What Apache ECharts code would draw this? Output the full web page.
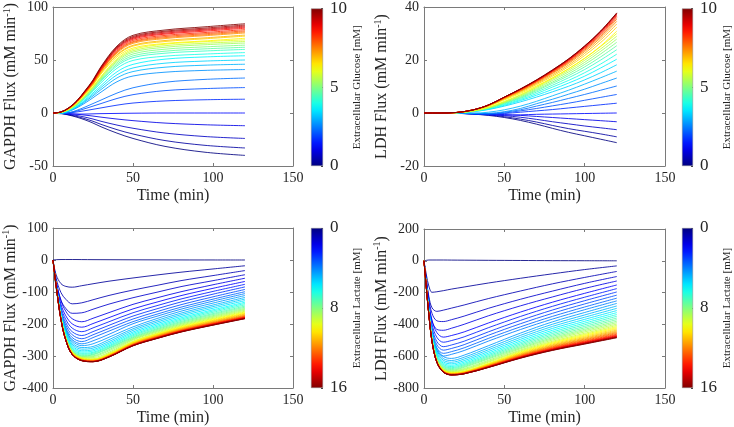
<!DOCTYPE html>
<html>
<head>
<meta charset="utf-8">
<script src="https://cdn.jsdelivr.net/npm/echarts@6/dist/echarts.min.js"></script>
<style>
html,body{margin:0;padding:0;background:#fff}
#main{width:734px;height:427px}
</style>
</head>
<body>
<div id="main"></div>
<script>
// time points (min)
var timeGapdhGlc = [0, 5, 10, 15, 20, 25, 30, 40, 50, 70, 95, 120];
var timeLdhGlc = [0, 10, 20, 30, 40, 50, 60, 70, 80, 90, 100, 110, 120];
var timeGapdhLac = [0, 2, 5, 8, 12, 18, 25, 35, 50, 65, 80, 100, 120];
var timeLdhLac = [0, 1.5, 3, 5, 8, 12, 17, 25, 40, 60, 80, 100, 120];

// extracellular concentrations of each curve (mM)
var glucoseLevels = [0,0.333,0.667,1,1.333,1.667,2,2.333,2.667,3,3.333,3.667,4,4.333,4.667,5,5.333,5.667,6,6.333,6.667,7,7.333,7.667,8,8.333,8.667,9,9.333,9.667,10];
var lactateLevels = [0,0.4,0.8,1.2,1.6,2,2.4,2.8,3.2,3.6,4,4.4,4.8,5.2,5.6,6,6.4,6.8,7.2,7.6,8,8.4,8.8,9.2,9.6,10,10.4,10.8,11.2,11.6,12,12.4,12.8,13.2,13.6,14,14.4,14.8,15.2,15.6,16];

// GAPDH flux vs glucose (one row per glucose level)
var gapdhGlc = [
[0,-0.5,-2,-4,-6.5,-9.5,-13,-19,-24,-31.5,-37,-40],
[0,-0.4,-1.7,-3.3,-5.4,-7.8,-10.7,-15.7,-19.8,-26,-30.5,-33],
[0,-0.3,-1.2,-2.4,-3.9,-5.7,-7.8,-11.4,-14.4,-18.9,-22.2,-24],
[0,-0.2,-0.6,-1.2,-2,-2.9,-3.9,-5.7,-7.2,-9.5,-11.1,-12],
[0,-0.3,-0.8,-1,-1,-0.8,-0.6,-0.4,-0.2,0,0,0],
[0,-0.3,0.1,1,2.2,3.5,4.8,7.4,9.4,11.4,12.5,13],
[0,-0.5,0.2,1.9,4.1,6.5,8.9,13.7,17.3,21.1,23,24],
[0,-0.7,0.3,2.6,5.6,8.9,12.2,18.8,23.8,29,31.7,33],
[0,0,1.6,4.9,9.4,14.4,19.7,29.5,34.9,38.5,40.2,41],
[0,0,1.8,5.5,10.6,16.1,22.1,33.1,39.1,43.2,45.1,46],
[0,0,2,6,11.5,17.5,24,36,42.5,47,49,50],
[0,0,2.2,6.5,12.4,18.9,25.9,38.9,45.9,50.8,52.9,54],
[0,0.5,2.9,7.4,13.7,20.5,28.5,42.2,49.6,53.6,55.6,57],
[0,0.5,3,7.8,14.4,21.6,30,44.4,52.2,56.4,58.5,60],
[0,0.5,3.1,8.1,14.9,22.3,31,45.9,53.9,58.3,60.5,62],
[0,0.5,3.2,8.3,15.4,23,32,47.4,55.7,60.2,62.4,64],
[0,0.5,3.3,8.6,15.8,23.8,33,48.8,57.4,62,64.4,66],
[0,0.5,3.4,8.8,16.2,24.3,33.8,50,58.7,63.5,65.8,67.5],
[0,0.6,3.5,9,16.6,24.8,34.5,51.1,60,64.9,67.3,69],
[0,0.8,4.2,9.9,17.6,26.1,36.7,52.9,61.3,65.6,68,70.5],
[0,0.9,4.4,10.2,18.1,26.8,37.7,54.4,63.1,67.4,70,72.5],
[0,0.9,4.4,10.3,18.4,27.2,38.2,55.1,63.9,68.4,70.9,73.5],
[0,0.9,4.5,10.6,18.9,27.9,39.3,56.6,65.7,70.2,72.9,75.5],
[0,0.9,4.6,10.7,19.1,28.3,39.8,57.4,66.6,71.1,73.8,76.5],
[0,0.9,4.7,10.9,19.4,28.7,40.3,58.1,67.4,72.1,74.8,77.5],
[0,0.9,4.7,11,19.7,29.1,40.9,59,68.5,73.2,75.9,78.7],
[0,1,4.8,11.2,20,29.6,41.6,60,69.6,74.4,77.2,80],
[0,1,4.9,11.3,20.3,30,42.1,60.8,70.5,75.3,78.2,81],
[0,1,4.9,11.5,20.5,30.3,42.6,61.5,71.3,76.3,79.1,82],
[0,1,5,11.6,20.8,30.7,43.2,62.3,72.2,77.2,80.1,83],
[0,1,5.1,11.8,21.1,31.2,43.8,63.2,73.3,78.3,81.3,84.2]
];

// LDH flux vs glucose
var ldhGlc = [
[0,0,-0.1,-0.4,-0.9,-1.7,-2.8,-4.2,-5.8,-7.3,-8.6,-9.9,-11.2],
[0,0,-0.08,-0.3,-0.7,-1.4,-2.3,-3.4,-4.7,-5.9,-6.9,-7.9,-9],
[0,0,-0.05,-0.2,-0.5,-1,-1.6,-2.4,-3.3,-4.1,-4.9,-5.6,-6.3],
[0,0,-0.03,-0.1,-0.3,-0.6,-0.9,-1.3,-1.7,-2.1,-2.5,-2.9,-3.3],
[0,0,-0.1,-0.4,-0.7,-0.8,-0.7,-0.5,-0.4,-0.3,-0.2,-0.1,0],
[0,0,-0.1,-0.3,-0.5,-0.2,0.3,0.8,1.3,1.9,2.5,3.1,3.7],
[0,0,-0.1,-0.3,-0.4,0,0.8,1.7,2.7,3.7,4.8,5.9,7],
[0,0,-0.1,-0.2,-0.3,0.3,1.2,2.6,4,5.5,7,8.6,10.2],
[0,0,-0.05,-0.15,-0.1,0.5,1.7,3.5,5.2,7.1,9,11.1,13.2],
[0,0,0,-0.1,0.3,1.2,2.6,4.4,6.5,8.6,10.9,13.3,15.8],
[0,0,0.05,0.46,1.3,2.6,4.2,6,8,10.1,12.5,15.2,18.2],
[0,0,0.06,0.51,1.4,2.9,4.7,6.7,8.9,11.3,13.9,17,20.3],
[0,0,0.07,0.56,1.6,3.2,5.1,7.3,9.8,12.3,15.2,18.5,22.2],
[0,0,0.07,0.6,1.7,3.5,5.5,7.9,10.5,13.3,16.4,20,23.9],
[0,0,0.08,0.64,1.8,3.7,5.8,8.4,11.2,14.1,17.4,21.2,25.4],
[0,0,0.08,0.67,1.9,3.9,6.1,8.8,11.7,14.8,18.3,22.3,26.7],
[0,0,0.08,0.7,2,4,6.4,9.2,12.3,15.5,19.1,23.3,27.9],
[0,0,0.09,0.73,2,4.2,6.7,9.6,12.8,16.1,19.9,24.2,29],
[0,0,0.09,0.75,2.1,4.4,6.9,9.9,13.2,16.7,20.6,25.1,30],
[0,0,0.15,0.93,2.5,4.9,7.4,10.2,13.3,16.7,20.7,25.3,30.9],
[0,0,0.16,0.97,2.6,5.2,7.8,10.7,13.9,17.5,21.7,26.6,32.4],
[0,0,0.17,1,2.7,5.4,8.1,11.1,14.4,18.1,22.5,27.6,33.6],
[0,0,0.17,1,2.8,5.5,8.3,11.4,14.9,18.7,23.2,28.4,34.6],
[0,0,0.18,1.1,2.8,5.7,8.5,11.7,15.2,19.1,23.7,29,35.4],
[0,0,0.18,1.1,2.9,5.8,8.6,11.9,15.5,19.4,24.1,29.5,36],
[0,0,0.18,1.1,2.9,5.8,8.8,12,15.7,19.7,24.5,29.9,36.5],
[0,0,0.18,1.1,3,5.9,8.9,12.2,15.9,19.9,24.7,30.3,36.9],
[0,0,0.19,1.1,3,6,9,12.3,16,20.1,25,30.6,37.3],
[0,0,0.19,1.1,3,6,9,12.4,16.1,20.3,25.1,30.8,37.5],
[0,0,0.19,1.1,3,6,9,12.4,16.2,20.4,25.3,30.9,37.7],
[0,0,0.19,1.1,3,6,9.1,12.5,16.3,20.4,25.3,31,37.8]
];

// GAPDH flux vs lactate
var gapdhLac = [
[0,1,1.5,1.5,1.5,1.3,1.1,0.9,0.6,0.4,0.2,0.1,0],
[0,-46.8,-74,-82.5,-85,-80.3,-74.3,-66.2,-56.2,-46.8,-38.1,-28,-18],
[0,-58,-102.1,-122.8,-137,-133.8,-124.3,-110.7,-93.9,-79.2,-64.5,-48.7,-33],
[0,-71.4,-125.8,-151.3,-166.6,-165,-153.9,-137.8,-117.9,-100.6,-83.2,-64.6,-46],
[0,-65.6,-127.4,-160.2,-183.4,-193,-182.1,-164.4,-138.6,-118.2,-99.2,-77.4,-57],
[0,-71.4,-138.6,-174.3,-199.5,-210,-198.6,-180,-152.8,-131.4,-111.3,-88.5,-67],
[0,-76.2,-147.8,-185.9,-212.8,-224,-212.2,-192.9,-164.8,-142.6,-121.9,-98.2,-76],
[0,-80.2,-155.8,-195.9,-224.2,-236,-223.8,-204.1,-175.2,-152.4,-131.1,-106.8,-84],
[0,-83.6,-162.4,-204.2,-233.7,-246,-233.7,-213.7,-184.4,-161.3,-139.7,-115.1,-92],
[0,-86.7,-168.3,-211.7,-242.3,-255,-242.5,-222.2,-192.6,-169.2,-147.4,-122.4,-99],
[0,-89.1,-172.9,-217.5,-248.9,-262,-252.6,-232.2,-199.2,-175.7,-153.7,-128.5,-105],
[0,-75.3,-161.4,-215.2,-252.9,-267.7,-261.9,-241.3,-209,-182.9,-160,-134.7,-111],
[0,-77,-165,-220,-258.5,-273.6,-270.3,-248.9,-215,-188.9,-166,-140.7,-117],
[0,-78.4,-168,-224,-263.2,-278.6,-275.3,-254.7,-220,-193.9,-171,-145.7,-122],
[0,-79.8,-171,-228,-267.9,-283.6,-280.3,-259.7,-225,-198.9,-176,-150.7,-127],
[0,-80.9,-173.4,-231.2,-271.7,-287.6,-284.3,-263.9,-229.3,-203.4,-180.7,-155.6,-132],
[0,-82,-175.8,-234.4,-275.4,-291.5,-288.3,-267.9,-233.3,-207.4,-184.7,-159.5,-136],
[0,-82.9,-177.6,-236.8,-278.2,-294.5,-291.3,-271,-236.7,-211,-188.4,-163.4,-140],
[0,-83.7,-179.4,-239.2,-281.1,-297.5,-294.4,-274.2,-240.1,-214.5,-192,-167.3,-144],
[0,-84.3,-180.6,-240.8,-282.9,-299.5,-296.4,-276.4,-242.7,-217.3,-195.1,-170.5,-147.5],
[0,-84.8,-181.8,-242.4,-284.8,-301.5,-299.5,-280.2,-245.2,-220.2,-198.1,-173.8,-151],
[0,-85.4,-183,-244,-286.7,-303.5,-302,-283.9,-247.6,-222.7,-200.8,-176.7,-154],
[0,-86,-184.2,-245.6,-288.6,-305.5,-305,-288.3,-250,-225.3,-203.5,-179.5,-157],
[0,-80.2,-182,-243.7,-286.9,-305.4,-308.5,-291.4,-253.6,-228.3,-206,-182.3,-160],
[0,-80.6,-182.9,-244.9,-288.3,-306.9,-310,-293.8,-255.4,-230.3,-208.2,-184.6,-162.5],
[0,-80.9,-183.5,-245.7,-289.2,-307.9,-311,-294.9,-257,-232.2,-210.3,-186.9,-165],
[0,-81.1,-184.1,-246.5,-290.2,-308.9,-312,-296,-258.4,-233.7,-212,-188.8,-167],
[0,-81.4,-184.7,-247.3,-291.1,-309.9,-313,-297.2,-259.7,-235.2,-213.6,-190.6,-169],
[0,-81.6,-185.3,-248.1,-292,-310.9,-314,-298.3,-261.1,-236.8,-215.3,-192.5,-171],
[0,-81.8,-185.7,-248.7,-292.8,-311.7,-314.8,-299.2,-262.3,-238.2,-217,-194.3,-173],
[0,-82,-186.1,-249.2,-293.4,-312.3,-315.5,-300,-263.3,-239.4,-218.2,-195.7,-174.5],
[0,-82.2,-186.4,-249.6,-293.9,-312.8,-316,-300.6,-264.2,-240.4,-219.4,-197,-176],
[0,-82.3,-186.7,-250,-294.3,-313.3,-316.5,-301.2,-265.1,-241.4,-220.6,-198.4,-177.5],
[0,-82.4,-186.9,-250.3,-294.6,-313.6,-316.8,-301.6,-265.6,-242.1,-221.4,-199.2,-178.5],
[0,-82.4,-187,-250.4,-294.8,-313.8,-317,-301.9,-266.1,-242.8,-222.1,-200.1,-179.5],
[0,-82.5,-187.1,-250.6,-295,-314,-317.2,-302.2,-266.6,-243.4,-222.9,-201,-180.5],
[0,-82.5,-187.3,-250.7,-295.2,-314.2,-317.4,-302.4,-267,-243.9,-223.4,-201.6,-181.2],
[0,-82.6,-187.4,-250.9,-295.4,-314.4,-317.6,-302.7,-267.4,-244.3,-224,-202.2,-181.9],
[0,-82.6,-187.4,-251,-295.5,-314.5,-317.7,-302.8,-267.7,-244.7,-224.4,-202.8,-182.5],
[0,-82.7,-187.6,-251.1,-295.6,-314.7,-317.9,-303.1,-268,-245.1,-224.8,-203.2,-183],
[0,-82.7,-187.6,-251.2,-295.7,-314.8,-318,-303.2,-268.2,-245.4,-225.2,-203.7,-183.5]
];

// LDH flux vs lactate
var ldhLac = [
[0,3,5,5,5,5,4.5,4,3,2,1,0.5,0],
[0,-89.1,-158.4,-198,-194.7,-188,-178.1,-164.8,-139.9,-110,-81.8,-55.2,-32],
[0,-120.8,-222.6,-295.7,-318,-310.5,-297.9,-277.8,-237.7,-190,-144.8,-104.6,-67],
[0,-127.1,-238.7,-331.1,-377.3,-382.1,-370.7,-347.8,-299.2,-242,-190.5,-141.9,-99],
[0,-145.2,-272.8,-378.4,-431.2,-436.9,-424.4,-399.3,-346.1,-283.5,-227.2,-173.9,-127],
[0,-134.4,-259.2,-374.4,-451.2,-480,-470.2,-447.2,-391.4,-322.6,-260.2,-204.5,-152],
[0,-143.4,-276.5,-399.4,-481.3,-512,-501.9,-478.3,-421,-350.2,-286.2,-228.9,-175],
[0,-151.2,-291.6,-421.2,-507.6,-540,-529.7,-505.6,-447.1,-374.9,-309.5,-251,-196],
[0,-157.4,-303.5,-438.4,-528.3,-562,-551.6,-527.4,-468.6,-395.9,-330.2,-271.4,-216],
[0,-163,-314.3,-454,-547.1,-582,-571.6,-547.3,-488.3,-415.4,-349.5,-290.5,-235],
[0,-167.7,-323.5,-467.2,-563.1,-599,-588.6,-564.3,-505.3,-432.4,-366.5,-307.5,-252],
[0,-153.5,-294.7,-442.1,-552.6,-601.7,-614,-593.2,-534.4,-454.8,-383.9,-325.1,-268],
[0,-156.8,-301,-451.4,-564.3,-614.5,-627,-606.4,-548.1,-469.2,-398.9,-340.6,-284],
[0,-159.5,-306.2,-459.4,-574.2,-625.2,-638,-617.7,-560,-482.1,-412.6,-354.9,-299],
[0,-162,-311,-466.6,-583.2,-635,-648,-627.9,-570.9,-493.9,-425.2,-368.3,-313],
[0,-164.3,-315.4,-473,-591.3,-643.9,-657,-637.1,-580.9,-504.7,-436.9,-380.6,-326],
[0,-166.3,-319.2,-478.8,-598.5,-651.7,-665,-645.4,-589.8,-514.6,-447.5,-391.9,-338],
[0,-168,-322.6,-483.8,-604.8,-658.6,-672,-652.6,-597.7,-523.4,-457.2,-402.3,-349],
[0,-169.5,-325.4,-488.2,-610.2,-664.4,-678,-658.9,-604.9,-531.7,-466.5,-412.5,-360],
[0,-171,-328.3,-492.5,-615.6,-670.3,-684,-665.2,-611.8,-539.6,-475.2,-421.8,-370],
[0,-172.3,-330.7,-496.1,-620.1,-675.2,-689,-670.5,-617.9,-546.9,-483.5,-431,-380],
[0,-173.3,-332.6,-499,-623.7,-679.1,-693,-677.8,-626.1,-553.2,-490.8,-439.2,-389],
[0,-174.3,-334.6,-501.8,-627.3,-683.1,-697,-683.5,-632.7,-561,-498.2,-447.3,-398],
[0,-171.5,-329,-497,-623,-682.5,-700,-688.2,-638.3,-567.1,-506,-456,-406],
[0,-172.2,-330.4,-499.1,-625.7,-685.4,-703,-694.3,-645.2,-572.9,-512.3,-463.1,-414],
[0,-172.7,-331.4,-500.6,-627.5,-687.4,-705,-696.5,-648.2,-577.2,-517.6,-469.3,-421],
[0,-173.2,-332.3,-502,-629.2,-689.3,-707,-698.6,-651.2,-581.5,-522.9,-475.4,-428],
[0,-173.7,-333.2,-503.4,-631,-691.3,-709,-700.8,-654.2,-585.7,-528.2,-481.6,-435],
[0,-174.1,-333.9,-504.5,-632.3,-692.7,-710.5,-702.4,-656.6,-589.2,-532.6,-486.8,-441],
[0,-174.4,-334.6,-505.5,-633.7,-694.2,-712,-704.1,-659,-592.8,-537.1,-492,-447],
[0,-174.7,-335.1,-506.2,-634.6,-695.2,-713,-705.2,-660.8,-595.5,-540.7,-496.4,-452],
[0,-174.9,-335.6,-506.9,-635.5,-696.2,-714,-706.3,-662.6,-598.4,-544.4,-500.7,-457],
[0,-175.2,-336.1,-507.7,-636.4,-697.1,-715,-707.4,-664.4,-601.2,-548,-505,-462],
[0,-175.3,-336.3,-508,-636.8,-697.6,-715.5,-708,-665.6,-603.2,-550.8,-508.4,-466],
[0,-175.4,-336.5,-508.4,-637.2,-698.1,-716,-708.6,-666.8,-605.3,-553.6,-511.8,-470],
[0,-175.5,-336.8,-508.7,-637.7,-698.6,-716.5,-709.2,-667.8,-606.9,-555.8,-514.4,-473],
[0,-175.7,-337,-509.1,-638.1,-699.1,-717,-709.8,-668.8,-608.6,-557.9,-517,-476],
[0,-175.7,-337.1,-509.3,-638.4,-699.4,-717.3,-710.1,-669.4,-609.6,-559.4,-518.7,-478],
[0,-175.8,-337.3,-509.5,-638.7,-699.7,-717.6,-710.5,-670.1,-610.7,-560.8,-520.4,-480],
[0,-175.9,-337.4,-509.6,-638.8,-699.9,-717.8,-710.7,-670.6,-611.7,-562.2,-522.1,-482],
[0,-175.9,-337.5,-509.8,-639,-700.1,-718,-711,-671.2,-612.7,-563.6,-523.8,-484]
];

var FONT = 'Liberation Serif';
var TXT = '#262626';
var AX = '#7a7a7a';

// matlab jet colormap
function jet(f) {
  function c(v) { return Math.round(255 * Math.max(0, Math.min(1, v))); }
  return 'rgb(' + c(1.5 - Math.abs(4 * f - 3)) + ',' + c(1.5 - Math.abs(4 * f - 2)) + ',' + c(1.5 - Math.abs(4 * f - 1)) + ')';
}
function jetStops(reverse) {
  var stops = [];
  for (var k = 0; k <= 20; k++) {
    var f = k / 20;
    stops.push({ offset: f, color: jet(reverse ? 1 - f : f) });
  }
  return stops;
}

var panels = [
  { grid: { left: 53, top: 7, width: 240, height: 159 }, cb: { left: 311, top: 7, width: 12, height: 159 },
    time: timeGapdhGlc, rows: gapdhGlc, levels: glucoseLevels, ymin: -50, ymax: 100, yint: 50,
    yname: 'GAPDH Flux (mM min', cbMax: 10, cbInt: 5, cbName: 'Extracellular Glucose [mM]', inv: false },
  { grid: { left: 424, top: 7, width: 241, height: 159 }, cb: { left: 682, top: 7, width: 12, height: 159 },
    time: timeLdhGlc, rows: ldhGlc, levels: glucoseLevels, ymin: -20, ymax: 40, yint: 20,
    yname: 'LDH Flux (mM min', cbMax: 10, cbInt: 5, cbName: 'Extracellular Glucose [mM]', inv: false },
  { grid: { left: 53, top: 228, width: 240, height: 160 }, cb: { left: 311, top: 228, width: 12, height: 160 },
    time: timeGapdhLac, rows: gapdhLac, levels: lactateLevels, ymin: -400, ymax: 100, yint: 100,
    yname: 'GAPDH Flux (mM min', cbMax: 16, cbInt: 8, cbName: 'Extracellular Lactate [mM]', inv: true },
  { grid: { left: 424, top: 229, width: 241, height: 159 }, cb: { left: 682, top: 228, width: 12, height: 160 },
    time: timeLdhLac, rows: ldhLac, levels: lactateLevels, ymin: -800, ymax: 200, yint: 200,
    yname: 'LDH Flux (mM min', cbMax: 16, cbInt: 8, cbName: 'Extracellular Lactate [mM]', inv: true }
];

var grids = [], xAxes = [], yAxes = [], series = [];

panels.forEach(function (p, n) {
  grids.push(p.grid);
  xAxes.push({
    gridIndex: n, type: 'value', min: 0, max: 150, interval: 50, position: 'bottom',
    name: 'Time (min)', nameLocation: 'middle', nameGap: 22,
    nameTextStyle: { fontFamily: FONT, fontSize: 16, color: TXT },
    axisLine: { onZero: false, lineStyle: { color: AX } },
    axisTick: { inside: true, length: 3, lineStyle: { color: AX } },
    axisLabel: { fontFamily: FONT, fontSize: 14, color: TXT, margin: 5 },
    splitLine: { show: false }
  });
  xAxes.push({
    gridIndex: n, type: 'value', min: 0, max: 150, interval: 50, position: 'top',
    axisLine: { onZero: false, lineStyle: { color: AX } },
    axisTick: { inside: true, length: 3, lineStyle: { color: AX } },
    axisLabel: { show: false }, splitLine: { show: false }
  });
  yAxes.push({
    gridIndex: n, type: 'value', min: p.ymin, max: p.ymax, interval: p.yint, position: 'left',
    name: '{a|' + p.yname + '}{s|-1}{a|)}', nameLocation: 'middle', nameRotate: 90, nameGap: 33,
    nameTextStyle: {
      color: TXT,
      rich: {
        a: { fontFamily: FONT, fontSize: 16, color: TXT, lineHeight: 18 },
        s: { fontFamily: FONT, fontSize: 10, color: TXT, verticalAlign: 'top', lineHeight: 18 }
      }
    },
    axisLine: { onZero: false, lineStyle: { color: AX } },
    axisTick: { inside: true, length: 3, lineStyle: { color: AX } },
    axisLabel: { fontFamily: FONT, fontSize: 14, color: TXT, margin: 5 },
    splitLine: { show: false }
  });
  yAxes.push({
    gridIndex: n, type: 'value', min: p.ymin, max: p.ymax, interval: p.yint, position: 'right',
    axisLine: { onZero: false, lineStyle: { color: AX } },
    axisTick: { inside: true, length: 3, lineStyle: { color: AX } },
    axisLabel: { show: false }, splitLine: { show: false }
  });
  var maxLevel = p.levels[p.levels.length - 1];
  p.rows.forEach(function (row, i) {
    series.push({
      type: 'line', xAxisIndex: 2 * n, yAxisIndex: 2 * n,
      data: p.time.map(function (t, j) { return [t, row[j]]; }),
      showSymbol: false, smooth: 0.35, silent: true,
      lineStyle: { width: 0.85, color: jet(p.levels[i] / maxLevel) }
    });
  });
});

// colorbars
panels.forEach(function (p, n) {
  var g = 4 + n;
  grids.push(p.cb);
  xAxes.push({ gridIndex: g, type: 'category', data: ['c'], show: false });
  yAxes.push({
    gridIndex: g, type: 'value', min: 0, max: p.cbMax, interval: p.cbInt, position: 'right', inverse: p.inv,
    name: p.cbName, nameLocation: 'middle', nameRotate: 90, nameGap: 29,
    nameTextStyle: { fontFamily: FONT, fontSize: 11, color: TXT },
    axisLine: { show: false },
    axisTick: { show: true, inside: true, length: 2, lineStyle: { color: '#444' } },
    axisLabel: { fontFamily: FONT, fontSize: 17, color: TXT, margin: 7 },
    splitLine: { show: false }
  });
  series.push({
    type: 'bar', xAxisIndex: 8 + n, yAxisIndex: 8 + n, data: [p.cbMax], barWidth: '100%', silent: true,
    itemStyle: {
      borderColor: '#888', borderWidth: 0.5,
      color: new echarts.graphic.LinearGradient(0, 0, 0, 1, jetStops(!p.inv))
    }
  });
});

var chart = echarts.init(document.getElementById('main'), null, { renderer: 'canvas' });
chart.setOption({
  animation: false,
  backgroundColor: '#fff',
  grid: grids,
  xAxis: xAxes,
  yAxis: yAxes,
  series: series
});
</script>
</body>
</html>
